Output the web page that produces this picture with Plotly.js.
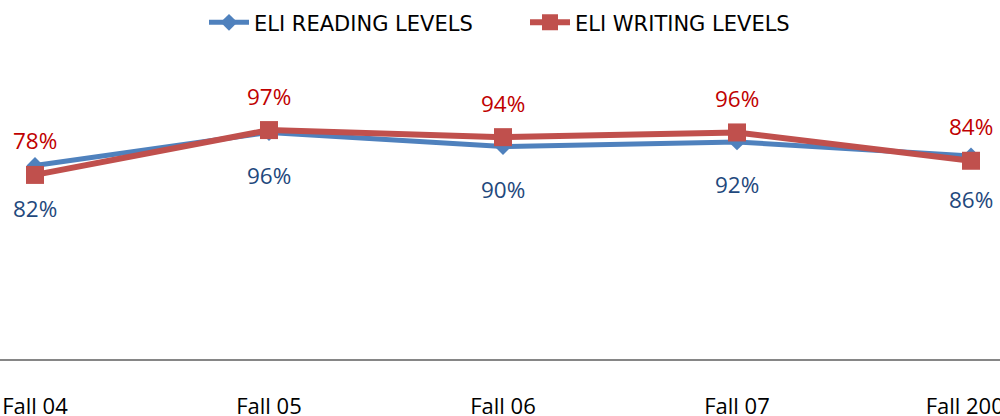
<!DOCTYPE html>
<html>
<head>
<meta charset="utf-8">
<script src="https://cdn.plot.ly/plotly-3.0.1.min.js"></script>
<style>html,body{margin:0;padding:0;background:#fff;}#chart{width:1000px;height:416px;}</style>
</head>
<body>
<div id="chart"></div>
<script>
const terms = ["Fall 04", "Fall 05", "Fall 06", "Fall 07", "Fall 2008"];
const readingLevels = [0.82, 0.96, 0.90, 0.92, 0.86];
const writingLevels = [0.78, 0.97, 0.94, 0.96, 0.84];
const readingName = "ELI READING LEVELS";
const writingName = "ELI WRITING LEVELS";

const pct = v => Math.round(v * 100) + "%";

const traces = [
  {
    x: terms, y: readingLevels, name: readingName, type: "scatter", mode: "lines+markers",
    line: {color: "#4F81BD", width: 5},
    marker: {symbol: "diamond", size: 13, color: "#4F81BD"},
    cliponaxis: false, hoverinfo: "skip"
  },
  {
    x: terms, y: writingLevels, name: writingName, type: "scatter", mode: "lines+markers",
    line: {color: "#C0504D", width: 6},
    marker: {symbol: "square", size: 18, color: "#C0504D"},
    cliponaxis: false, hoverinfo: "skip"
  }
];

const annotations = [];
terms.forEach((t, i) => {
  annotations.push({x: t, y: writingLevels[i], xref: "x", yref: "y", text: pct(writingLevels[i]),
    showarrow: false, yshift: 34, font: {family: "Open Sans, sans-serif", size: 22.5, color: "#C00000"}});
  annotations.push({x: t, y: readingLevels[i], xref: "x", yref: "y", text: pct(readingLevels[i]),
    showarrow: false, yshift: -43, font: {family: "Open Sans, sans-serif", size: 22.5, color: "#1F497D"}});
});

const layout = {
  width: 1000, height: 416,
  margin: {l: 0, r: 0, t: 122.5, b: 57, pad: 0},
  paper_bgcolor: "#ffffff", plot_bgcolor: "#ffffff",
  showlegend: true,
  legend: {orientation: "h", x: 0.525, xanchor: "center", y: 1.425, yanchor: "middle",
    font: {family: "DejaVu Sans, sans-serif", size: 21, color: "#000000"},
    itemwidth: 40, entrywidth: 266, bgcolor: "rgba(0,0,0,0)"},
  xaxis: {type: "category", range: [-35/234, 4 + 29/234], showgrid: false, zeroline: false,
    showline: true, linecolor: "#868686", linewidth: 2, ticks: "", ticklabelstandoff: 27,
    tickfont: {family: "Open Sans, sans-serif", size: 22, color: "#000000"},
    fixedrange: true},
  yaxis: {range: [0, 1], visible: false, showgrid: false, zeroline: false, fixedrange: true},
  annotations: annotations
};

Plotly.newPlot("chart", traces, layout, {staticPlot: true, displayModeBar: false});
</script>
</body>
</html>
